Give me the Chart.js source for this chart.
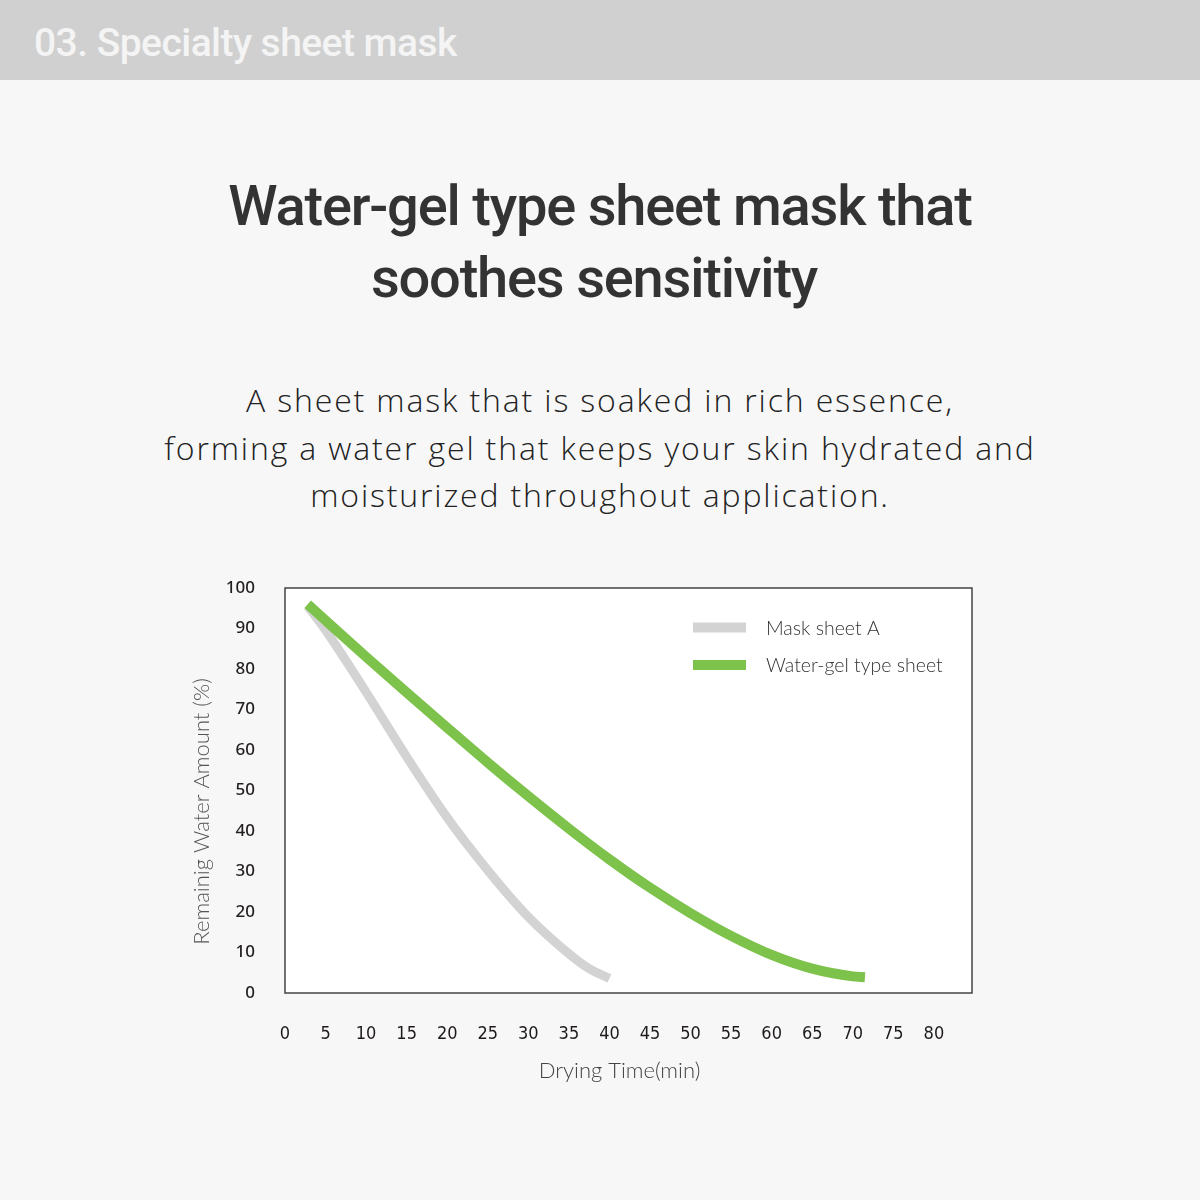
<!DOCTYPE html>
<html>
<head>
<meta charset="utf-8">
<script src="https://cdn.jsdelivr.net/npm/chart.js@4.4.0/dist/chart.umd.min.js"></script>
<style>
  html, body { margin: 0; padding: 0; }
  body { width: 1200px; height: 1200px; background: #f7f7f7; position: relative; overflow: hidden; }
  #hdr { position: absolute; left: 0; top: 0; width: 1200px; height: 80px; background: #d0d0d0; }
  #hdr span { position: absolute; left: 34px; top: 19px; font-family: Roboto, sans-serif; font-weight: 500; font-size: 39px; line-height: 48px; color: #f4f4f4; letter-spacing: -0.55px; white-space: nowrap; }
  #title { position: absolute; left: 0; width: 1200px; top: 170px; text-align: center; font-family: Roboto, sans-serif; font-weight: 500; font-size: 56px; line-height: 72px; color: #333333; letter-spacing: -1.2px; }
  #title .l2 { position: relative; left: -6px; }
  #sub { position: absolute; left: 0; width: 1200px; top: 376px; text-align: center; font-family: 'Open Sans', sans-serif; font-weight: 300; font-size: 32px; line-height: 47.5px; color: #222222; letter-spacing: 1.85px; }
  #wrap { position: absolute; left: 0; top: 540px; width: 1200px; height: 600px; }
</style>
</head>
<body>
<div id="hdr"><span>03. Specialty sheet mask</span></div>
<div id="title">Water-gel type sheet mask that<br><span class="l2">soothes sensitivity</span></div>
<div id="sub">A sheet mask that is soaked in rich essence,<br>forming a water gel that keeps your skin hydrated and<br>moisturized throughout application.</div>
<div id="wrap"><canvas id="c" width="1200" height="600"></canvas></div>
<script>
// ---- data ----
const seriesNames = ['Mask sheet A', 'Water-gel type sheet'];
const maskATime  = [2.8, 5, 10, 15, 20, 25, 30, 35, 37.5, 40];
const maskAWater = [95.5, 89.6, 74.3, 58.3, 43.3, 30.3, 18.8, 9.7, 6.0, 3.6];
const gelTime    = [2.8, 5, 10, 15, 20, 25, 30, 35, 40, 45, 50, 55, 60, 65, 70, 71.5];
const gelWater   = [96, 92.0, 83.0, 74.2, 65.5, 56.9, 48.6, 40.6, 33.0, 26.0, 19.7, 14.1, 9.4, 6.0, 4.1, 3.9];
const xTickValues = [0, 5, 10, 15, 20, 25, 30, 35, 40, 45, 50, 55, 60, 65, 70, 75, 80];
const yTickValues = [0, 10, 20, 30, 40, 50, 60, 70, 80, 90, 100];
const xTitle = 'Drying Time(min)';
const yTitle = 'Remainig Water Amount (%)';

const colors = ['#d3d3d3', '#7dc24b'];

const toPoints = (xs, ys) => xs.map((x, i) => ({ x: x, y: ys[i] }));

const boxPlugin = {
  id: 'box',
  beforeDatasetsDraw(chart) {
    const { ctx, chartArea: a } = chart;
    ctx.save();
    ctx.fillStyle = '#ffffff';
    ctx.fillRect(a.left, a.top, a.right - a.left, a.bottom - a.top);
    ctx.restore();
  },
  afterDatasetsDraw(chart) {
    const { ctx, chartArea: a } = chart;
    ctx.save();
    ctx.strokeStyle = '#444444';
    ctx.lineWidth = 1.5;
    ctx.strokeRect(a.left, a.top, a.right - a.left, a.bottom - a.top);
    ctx.restore();
  }
};

const legendPlugin = {
  id: 'insideLegend',
  afterDraw(chart) {
    const { ctx, chartArea: a } = chart;
    ctx.save();
    const bx = a.right - 279, bw = 53, bh = 10;
    const rows = [39.5, 77];
    chart.data.datasets.forEach((ds, i) => {
      const cy = a.top + rows[i];
      ctx.fillStyle = ds.borderColor;
      ctx.fillRect(bx, cy - bh / 2, bw, bh);
      ctx.fillStyle = '#333333';
      ctx.font = '300 19.5px Lato, sans-serif';
      ctx.textBaseline = 'middle';
      ctx.textAlign = 'left';
      ctx.fillText(ds.label, bx + 73, cy + 1);
    });
    ctx.restore();
  }
};

new Chart(document.getElementById('c'), {
  type: 'line',
  data: {
    datasets: [
      { label: seriesNames[0], data: toPoints(maskATime, maskAWater), borderColor: colors[0], borderWidth: 9, pointRadius: 0, cubicInterpolationMode: 'monotone', fill: false, order: 1, borderCapStyle: 'butt' },
      { label: seriesNames[1], data: toPoints(gelTime, gelWater), borderColor: colors[1], borderWidth: 10, pointRadius: 0, cubicInterpolationMode: 'monotone', fill: false, order: 0, borderCapStyle: 'butt' }
    ]
  },
  options: {
    responsive: false,
    animation: false,
    devicePixelRatio: 1,
    layout: { padding: { top: 48, right: 228, left: 188.6, bottom: 55.6 } },
    plugins: { legend: { display: false }, tooltip: { enabled: false } },
    scales: {
      x: {
        type: 'linear', min: 0, max: 84.7,
        grid: { display: false, drawTicks: false },
        border: { display: false },
        afterBuildTicks(scale) { scale.ticks = xTickValues.map(v => ({ value: v })); },
        afterFit(scale) { scale.height = 91.4; },
        ticks: {
          autoSkip: false, maxRotation: 0, padding: 31,
          color: '#1e1a1b',
          font: { family: "'Liberation Sans Narrow', 'DejaVu Sans Condensed', Roboto, sans-serif", size: 18, weight: '500' }
        },
        title: {
          display: true, text: xTitle + '\u00a0'.repeat(3), color: '#444444', padding: 0,
          font: { family: 'Lato, sans-serif', weight: '300', size: 22 }
        }
      },
      y: {
        type: 'linear', min: 0, max: 100,
        grid: { display: false, drawTicks: false },
        border: { display: false },
        afterBuildTicks(scale) { scale.ticks = yTickValues.map(v => ({ value: v })); },
        afterFit(scale) { scale.width = 96.4; },
        ticks: {
          padding: 30, color: '#231f20',
          font: { family: "'Noto Sans', sans-serif", weight: '500', size: 17 }
        },
        title: {
          display: true, text: yTitle + '\u00a0'.repeat(7), color: '#555555', padding: 0,
          font: { family: 'Lato, sans-serif', weight: '300', size: 22 }
        }
      }
    }
  },
  plugins: [boxPlugin, legendPlugin]
});
</script>
</body>
</html>
